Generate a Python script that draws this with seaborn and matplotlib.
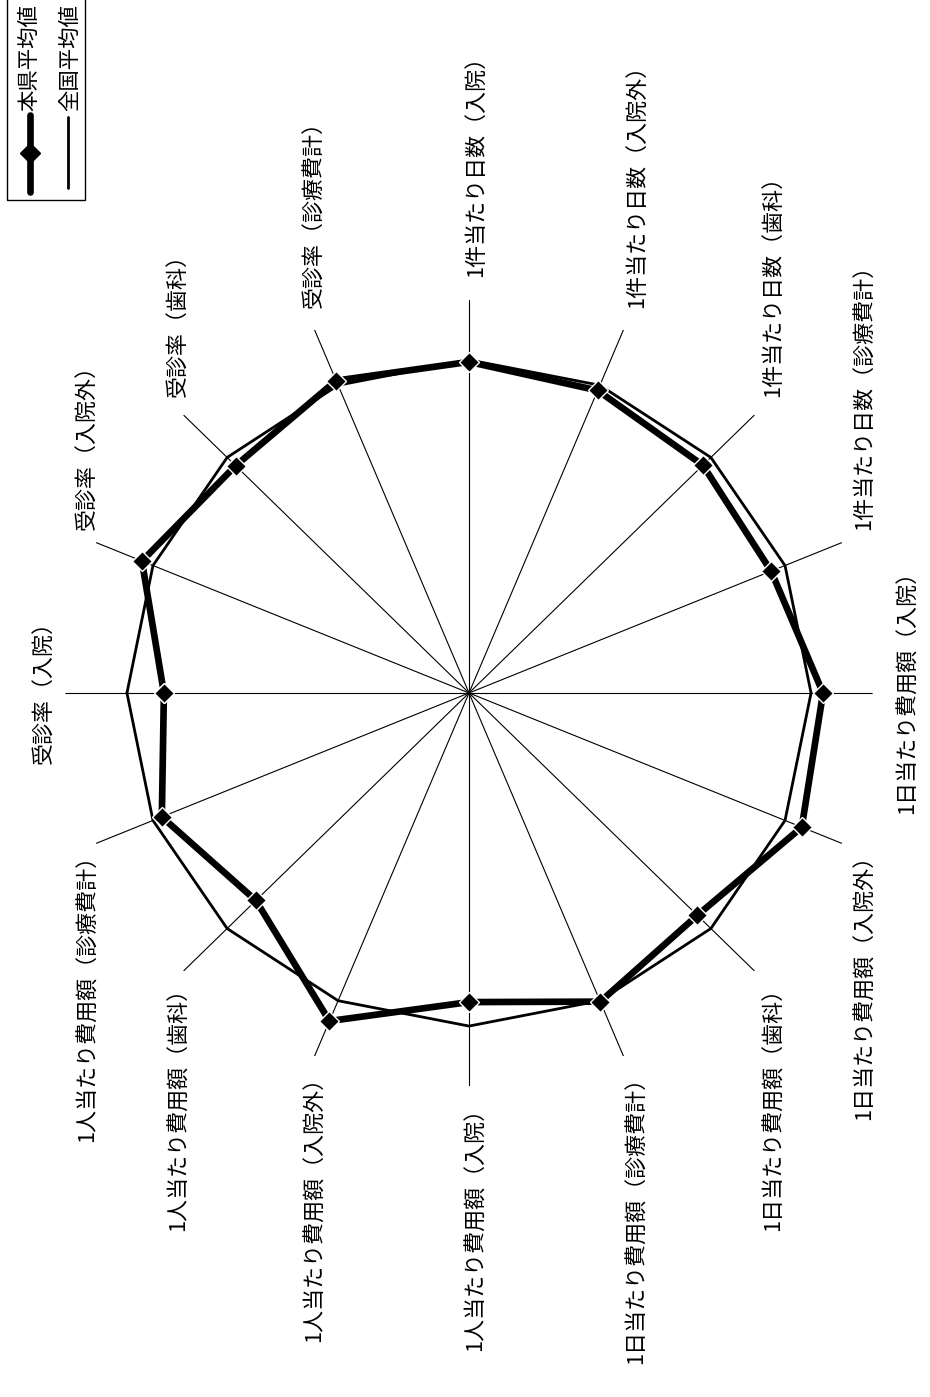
import numpy as np
import matplotlib
matplotlib.use('Agg')
import matplotlib.pyplot as plt
import matplotlib.transforms as mtransforms
from matplotlib.lines import Line2D
from matplotlib.patches import Rectangle
import seaborn as sns

# ---- data ----
categories = [
    '受診率（入院）', '受診率（入院外）', '受診率（歯科）', '受診率（診療費計）',
    '1件当たり日数（入院）', '1件当たり日数（入院外）', '1件当たり日数（歯科）', '1件当たり日数（診療費計）',
    '1日当たり費用額（入院）', '1日当たり費用額（入院外）', '1日当たり費用額（歯科）', '1日当たり費用額（診療費計）',
    '1人当たり費用額（入院）', '1人当たり費用額（入院外）', '1人当たり費用額（歯科）', '1人当たり費用額（診療費計）',
]
pref_values = [89.2, 103.5, 96.5, 101.5, 99.4, 98.3, 96.7, 95.6,
               103.5, 105.3, 94.4, 100.3, 92.8, 106.6, 88.1, 97.2]
national_values = [100, 100, 100, 100, 100, 100, 100, 100,
                   100, 100, 100, 100, 100, 100, 100, 100]
legend_labels = ['本県平均値', '全国平均値']

# ---- style ----
sns.set_theme(style='white')
plt.rcParams['font.family'] = ['Noto Sans CJK JP', 'DejaVu Sans']

W, H = 930, 1397
fig = plt.figure(figsize=(W / 100, H / 100), dpi=100)
ax = fig.add_axes([0.0703, 0.2226, 0.868, 0.5627], projection='polar')
ax.set_theta_offset(np.pi)
ax.set_theta_direction(-1)

n = len(categories)
theta = np.linspace(0, 2 * np.pi, n, endpoint=False)
theta_c = np.append(theta, 2 * np.pi)
nat_c = np.append(national_values, national_values[0])
pref_c = np.append(pref_values, pref_values[0])

sns.lineplot(x=theta_c, y=nat_c, ax=ax, color='black', lw=2.0, sort=False,
             estimator=None, zorder=3)
sns.lineplot(x=theta_c, y=pref_c, ax=ax, color='black', lw=4.8, marker='D',
             markersize=10, markeredgewidth=1, sort=False, estimator=None, zorder=4)

ax.set_ylim(0, 118)
ax.set_aspect('auto')
ax.set_xticks(theta)
ax.set_xticklabels([])
ax.set_yticks([])
ax.set_xlabel('')
ax.set_ylabel('')
ax.xaxis.grid(True, color='black', lw=0.8)
ax.yaxis.grid(False)
ax.spines['polar'].set_visible(False)
ax.set_axisbelow(True)
ax.patch.set_alpha(0)

# ---- category labels (rotated) ----
trans = mtransforms.offset_copy(ax.transData, fig=fig, x=7, y=6, units='dots')
for t, lab in zip(theta, categories):
    phi = np.pi - t
    c, s = np.cos(phi), np.sin(phi)
    if abs(c) > 0.99:
        ha = 'left' if c > 0 else 'right'
        va = 'center'
    else:
        ha = 'center'
        va = 'bottom' if s > 0 else 'top'
    ax.text(t, 123, lab, rotation=90, ha=ha, va=va, fontsize=15.8,
            color='black', transform=trans, clip_on=False)

# ---- legend (rotated, manual) ----
fx = lambda px: px / W
fy = lambda py: 1 - py / H
fig.add_artist(Rectangle((fx(7), fy(200)), fx(85) - fx(7), 0.2, fill=False,
                         lw=1.0, edgecolor='black', transform=fig.transFigure))
fig.add_artist(Line2D([fx(30), fx(30)], [fy(115), fy(192)], lw=4.8, color='black',
                      transform=fig.transFigure))
fig.add_artist(Line2D([fx(30)], [fy(153)], marker='D', markersize=10, color='black',
                      transform=fig.transFigure))
fig.add_artist(Line2D([fx(68), fx(68)], [fy(117), fy(188)], lw=2.0, color='black',
                      transform=fig.transFigure))
fig.text(fx(29), fy(111), legend_labels[0], rotation=90, ha='center', va='bottom',
         fontsize=15.4, color='black')
fig.text(fx(70), fy(111), legend_labels[1], rotation=90, ha='center', va='bottom',
         fontsize=15.4, color='black')

fig.savefig('out.png', dpi=100, facecolor='white')
